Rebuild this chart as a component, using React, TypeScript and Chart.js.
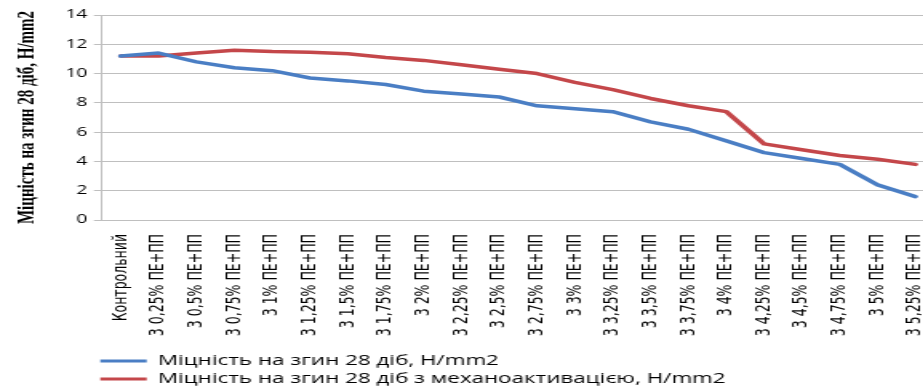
import React, { useEffect, useRef } from "react";
import { Chart, registerables } from "chart.js";

Chart.register(...registerables);

const categories = [
  "Контрольний",
  "3 0,25% ПЕ+ПП",
  "3 0,5% ПЕ+ПП",
  "3 0,75% ПЕ+ПП",
  "3 1% ПЕ+ПП",
  "3 1,25% ПЕ+ПП",
  "3 1,5% ПЕ+ПП",
  "3 1,75% ПЕ+ПП",
  "3 2% ПЕ+ПП",
  "3 2,25% ПЕ+ПП",
  "3 2,5% ПЕ+ПП",
  "3 2,75% ПЕ+ПП",
  "3 3% ПЕ+ПП",
  "3 3,25% ПЕ+ПП",
  "3 3,5% ПЕ+ПП",
  "3 3,75% ПЕ+ПП",
  "3 4% ПЕ+ПП",
  "3 4,25% ПЕ+ПП",
  "3 4,5% ПЕ+ПП",
  "3 4,75% ПЕ+ПП",
  "3 5% ПЕ+ПП",
  "3 5,25% ПЕ+ПП",
];

const flexural28 = [
  11.2, 11.4, 10.8, 10.4, 10.2, 9.7, 9.5, 9.25, 8.8, 8.6, 8.4, 7.8, 7.6, 7.4,
  6.7, 6.2, 5.4, 4.6, 4.2, 3.8, 2.4, 1.6,
];

const flexural28Mech = [
  11.2, 11.2, 11.4, 11.6, 11.5, 11.45, 11.35, 11.1, 10.9, 10.6, 10.3, 10.0, 9.4,
  8.9, 8.3, 7.8, 7.4, 5.2, 4.8, 4.4, 4.15, 3.8,
];

const seriesNames = [
  "Міцність на згин 28 діб, Н/mm2",
  "Міцність на згин 28 діб з механоактивацією, Н/mm2",
];

const yAxisTitle = "Міцність на згин 28 діб, Н/mm2";
const yMin = 0;
const yMax = 14;
const yStep = 2;

const STRETCH = 1.6;
const CANVAS_W = 600;
const CANVAS_H = 392;
const X_AXIS_HEIGHT = 126;

const legendShift = {
  id: "legendShift",
  afterLayout(chart: any) {
    if (chart.legend) {
      chart.legend.left -= 5;
      chart.legend.right -= 5;
      chart.legend.top += 4;
      chart.legend.bottom += 4;
    }
  },
};

export default function App() {
  const ref = useRef<HTMLCanvasElement>(null);

  useEffect(() => {
    const canvas = ref.current;
    if (!canvas) return;
    const chart = new Chart(canvas, {
      type: "line",
      data: {
        labels: categories,
        datasets: [
          {
            label: seriesNames[0],
            data: flexural28,
            borderColor: "#4A7EC4",
            backgroundColor: "#4A7EC4",
            borderWidth: 3.5,
            pointRadius: 0,
            tension: 0,
            borderJoinStyle: "round",
            borderCapStyle: "round",
          },
          {
            label: seriesNames[1],
            data: flexural28Mech,
            borderColor: "#C4474A",
            backgroundColor: "#C4474A",
            borderWidth: 3.5,
            pointRadius: 0,
            tension: 0,
            borderJoinStyle: "round",
            borderCapStyle: "round",
          },
        ],
      },
      options: {
        responsive: false,
        animation: false,
        devicePixelRatio: 1,
        layout: { padding: { left: 7, right: 16, top: 15, bottom: 0 } },
        scales: {
          x: {
            offset: true,
            grid: { display: false },
            border: { display: false },
            afterFit: (scale: any) => {
              scale.height = X_AXIS_HEIGHT;
            },
            ticks: {
              autoSkip: false,
              minRotation: 90,
              maxRotation: 90,
              color: "#000",
              padding: 6,
              font: { family: "DejaVu Sans", size: 12.5 },
            },
          },
          y: {
            min: yMin,
            max: yMax,
            ticks: {
              stepSize: yStep,
              color: "#000",
              padding: 4,
              font: { family: "Open Sans", size: 12 },
            },
            grid: { color: "#BFBFBF", tickLength: 5 },
            border: { color: "#BFBFBF" },
            title: {
              display: true,
              text: yAxisTitle,
              color: "#000",
              font: { family: "Liberation Serif", size: 15, weight: "bold" },
              padding: { top: 1, bottom: 11 },
            },
          },
        },
        plugins: {
          legend: {
            position: "bottom",
            align: "start",
            fullSize: false,
            labels: {
              color: "#000",
              boxWidth: 29,
              boxHeight: 3,
              padding: 4,
              font: { family: "Open Sans", size: 14, lineHeight: 1 },
              generateLabels: (c: any) =>
                Chart.defaults.plugins.legend.labels
                  .generateLabels(c)
                  .map((l: any) => ({ ...l, lineWidth: 0 })),
            },
          },
          tooltip: { enabled: false },
        },
      },
      plugins: [legendShift],
    });
    return () => chart.destroy();
  }, []);

  return (
    <div
      style={{
        position: "fixed",
        left: 0,
        top: 0,
        width: 923,
        height: 392,
        overflow: "hidden",
        background: "#fff",
      }}
    >
      <div
        style={{
          width: CANVAS_W,
          height: CANVAS_H,
          transform: `scaleX(${STRETCH})`,
          transformOrigin: "0 0",
        }}
      >
        <canvas ref={ref} width={CANVAS_W} height={CANVAS_H} />
      </div>
    </div>
  );
}
